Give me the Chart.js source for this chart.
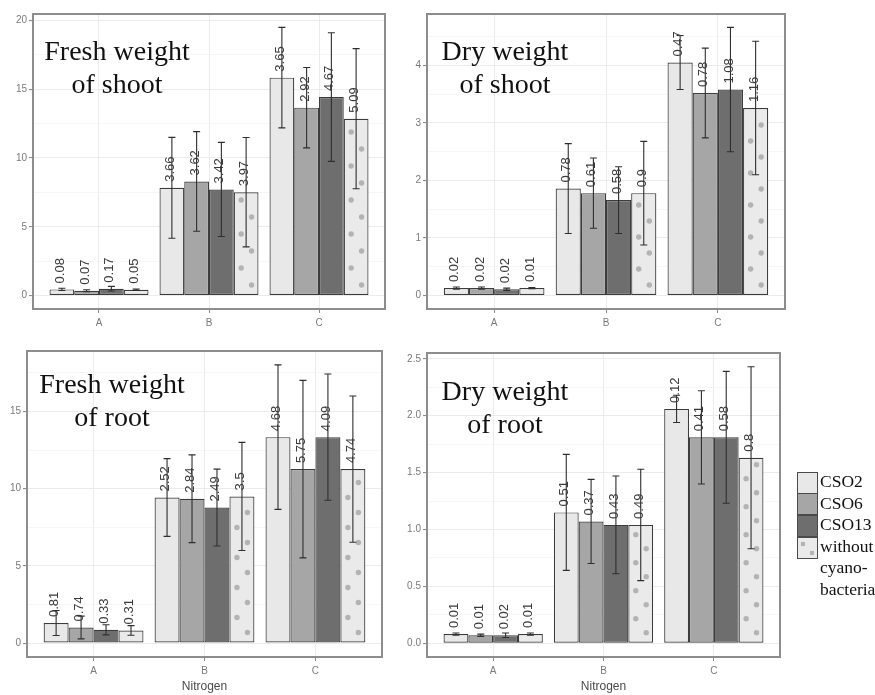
<!DOCTYPE html>
<html><head><meta charset="utf-8">
<script src="https://cdn.jsdelivr.net/npm/chart.js@4"></script>
<style>
html,body{margin:0;padding:0;background:#fff;}
#page{position:relative;width:875px;height:695px;overflow:hidden;background:#fff;}
canvas{position:absolute;}
.ttl{position:absolute;font-family:"Liberation Serif","Times New Roman",serif;font-size:28px;line-height:33px;color:#111;text-align:center;white-space:nowrap;transform:translateX(-50%);}
.key{position:absolute;left:797px;width:21px;height:22px;box-sizing:border-box;border:1px solid #4a4a4a;}
#legtxt{position:absolute;left:820px;top:471px;font-family:"Liberation Serif","Times New Roman",serif;font-size:17.5px;line-height:21.5px;color:#111;white-space:nowrap;}
</style></head>
<body><div id="page">
<canvas id="c1" width="400" height="335" style="left:0;top:0"></canvas>
<canvas id="c2" width="400" height="335" style="left:400px;top:0"></canvas>
<canvas id="c3" width="400" height="360" style="left:0;top:335px"></canvas>
<canvas id="c4" width="400" height="360" style="left:400px;top:335px"></canvas>
<div class="ttl" style="left:117px;top:34px">Fresh weight<br>of shoot</div>
<div class="ttl" style="left:505px;top:34px">Dry weight<br>of shoot</div>
<div class="ttl" style="left:112px;top:367px">Fresh weight<br>of root</div>
<div class="ttl" style="left:505px;top:374px">Dry weight<br>of root</div>
<div class="key" style="top:472px;background:#e8e8e8"></div>
<div class="key" style="top:493px;background:#a6a6a6"></div>
<div class="key" style="top:515px;background:#6e6e6e"></div>
<div class="key" style="top:537px;background-color:#eaeaea;background-image:radial-gradient(circle at 5px 6px,#b3b3b3 2.2px,transparent 2.6px),radial-gradient(circle at 14px 15px,#b3b3b3 2.2px,transparent 2.6px);"></div>
<div id="legtxt">CSO2<br>CSO6<br>CSO13<br>without<br>cyano-<br>bacteria</div>
</div>
<script>
Chart.defaults.font.family = "'Liberation Sans', Arial, sans-serif";
Chart.defaults.animation = false;

const categories = ['A', 'B', 'C'];
const seriesNames = ['CSO2', 'CSO6', 'CSO13', 'without cyano-bacteria'];
const seriesFill = ['#e8e8e8', '#a6a6a6', '#6e6e6e', '#eaeaea'];

// mean values per series (A, B, C)
const freshShootMean = [[0.45, 7.83, 15.83], [0.35, 8.29, 13.65], [0.50, 7.71, 14.42], [0.42, 7.51, 12.85]];
const freshShootSd   = [[0.08, 3.66, 3.65], [0.07, 3.62, 2.92], [0.17, 3.42, 4.67], [0.05, 3.97, 5.09]];
const dryShootMean   = [[0.13, 1.86, 4.05], [0.13, 1.78, 3.52], [0.11, 1.66, 3.58], [0.13, 1.78, 3.26]];
const dryShootSd     = [[0.02, 0.78, 0.47], [0.02, 0.61, 0.78], [0.02, 0.58, 1.08], [0.01, 0.9, 1.16]];
const freshRootMean  = [[1.30, 9.43, 13.34], [1.01, 9.35, 11.27], [0.86, 8.78, 13.34], [0.82, 9.50, 11.27]];
const freshRootSd    = [[0.81, 2.52, 4.68], [0.74, 2.84, 5.75], [0.33, 2.49, 4.09], [0.31, 3.5, 4.74]];
const dryRootMean    = [[0.08, 1.15, 2.06], [0.07, 1.07, 1.81], [0.07, 1.04, 1.81], [0.08, 1.04, 1.63]];
const dryRootSd      = [[0.01, 0.51, 0.12], [0.01, 0.37, 0.41], [0.02, 0.43, 0.58], [0.01, 0.49, 0.8]];

const freshShootTicks = [0, 5, 10, 15, 20];
const dryShootTicks   = [0, 1, 2, 3, 4];
const freshRootTicks  = [0, 5, 10, 15];
const dryRootTicks    = [0, 0.5, 1, 1.5, 2, 2.5];

const decorPlugin = {
  id: 'decor',
  afterDatasetsDraw(chart) {
    const ctx = chart.ctx, ys = chart.scales.y, ca = chart.chartArea;
    const cfg = chart.options.plugins.decor;
    // dotted fill of the "without" series
    const dmeta = chart.getDatasetMeta(3);
    dmeta.data.forEach(el => {
      const w = el.width, left = el.x - w / 2;
      const top = Math.min(el.y, el.base), bottom = Math.max(el.y, el.base);
      ctx.save();
      ctx.beginPath(); ctx.rect(left + 1.5, top + 1.5, w - 3, bottom - top - 3); ctx.clip();
      ctx.fillStyle = '#b3b3b3';
      let k = 0;
      for (let y = bottom - 10; y > top + 4; y -= cfg.dotStep, k++) {
        const x = left + (k % 2 === 0 ? 0.72 : 0.3) * w;
        ctx.beginPath(); ctx.arc(x, y, 2.7, 0, Math.PI * 2); ctx.fill();
      }
      ctx.restore();
    });
    ctx.save();
    // error bars
    ctx.strokeStyle = '#2e2e2e'; ctx.lineWidth = 1.1;
    chart.data.datasets.forEach((ds, di) => {
      chart.getDatasetMeta(di).data.forEach((el, j) => {
        const m = cfg.means[di][j], s = cfg.sds[di][j];
        const yt = ys.getPixelForValue(m + s), yb = ys.getPixelForValue(m - s);
        ctx.beginPath();
        ctx.moveTo(el.x, yt); ctx.lineTo(el.x, yb);
        ctx.moveTo(el.x - 3.5, yt); ctx.lineTo(el.x + 3.5, yt);
        ctx.moveTo(el.x - 3.5, yb); ctx.lineTo(el.x + 3.5, yb);
        ctx.stroke();
      });
    });
    // rotated sd labels
    ctx.fillStyle = '#3a3a3a';
    ctx.font = "13px 'Liberation Sans', Arial, sans-serif";
    ctx.textAlign = 'left'; ctx.textBaseline = 'middle';
    chart.data.datasets.forEach((ds, di) => {
      chart.getDatasetMeta(di).data.forEach((el, j) => {
        ctx.save();
        ctx.translate(el.x - 1.5, el.y - 6);
        ctx.rotate(-Math.PI / 2);
        ctx.fillText(String(cfg.sds[di][j]), 0, 0);
        ctx.restore();
      });
    });
    // panel border
    ctx.strokeStyle = '#8d8d8d'; ctx.lineWidth = 2;
    ctx.strokeRect(ca.left, ca.top, ca.right - ca.left, ca.bottom - ca.top);
    ctx.restore();
  }
};

function makePanel(id, means, sds, majorTicks, fmt, lay, xTitle, dotStep) {
  let hi = 0;
  means.forEach((row, i) => row.forEach((m, j) => { hi = Math.max(hi, m + sds[i][j]); }));
  const pad = hi * 0.05;
  const yMin = -pad, yMax = hi + pad;
  const step = majorTicks[1] - majorTicks[0];
  const minors = [majorTicks[0] - step / 2].concat(majorTicks.map(v => v + step / 2)).filter(v => v > yMin && v < yMax);
  const yTickObjs = majorTicks.map(v => ({ value: v, isMinor: false }))
    .concat(minors.map(v => ({ value: v, isMinor: true })))
    .sort((a, b) => a.value - b.value);

  const datasets = seriesNames.map((name, i) => ({
    label: name,
    data: categories.map((c, j) => ({ x: j + 1, y: means[i][j] })),
    backgroundColor: seriesFill[i],
    borderColor: '#3c3c3c',
    borderWidth: 1.2,
    borderSkipped: false,
    categoryPercentage: 0.9,
    barPercentage: 1.0
  }));

  return new Chart(document.getElementById(id), {
    type: 'bar',
    data: { datasets },
    options: {
      responsive: false,
      animation: false,
      layout: { padding: { left: 0, top: lay.top, right: lay.right, bottom: 0 } },
      plugins: {
        legend: { display: false },
        tooltip: { enabled: false },
        decor: { means, sds, dotStep }
      },
      scales: {
        x: {
          type: 'linear',
          min: 0.4, max: 3.6,
          offset: false,
          afterBuildTicks: s => { s.ticks = categories.map((c, j) => ({ value: j + 1 })); },
          afterFit: s => { s.height = lay.xh; },
          border: { display: false },
          grid: { offset: false, color: '#ebebeb', lineWidth: 1, drawTicks: true, tickLength: 4, tickColor: '#8d8d8d' },
          ticks: {
            autoSkip: false, maxRotation: 0, padding: 4,
            color: '#7a7a7a', font: { size: 10 },
            callback: v => categories[Math.round(v) - 1]
          },
          title: { display: xTitle, text: 'Nitrogen', color: '#4a4a4a', font: { size: 12 }, padding: { top: 0, bottom: 1 } }
        },
        y: {
          min: yMin, max: yMax,
          afterBuildTicks: s => { s.ticks = yTickObjs.map(t => ({ value: t.value, isMinor: t.isMinor })); },
          afterFit: s => { s.width = lay.yw; },
          border: { display: false },
          grid: {
            color: c => (c.tick && c.tick.isMinor) ? '#f4f4f4' : '#ebebeb',
            lineWidth: c => (c.tick && c.tick.isMinor) ? 0.8 : 1.1,
            drawTicks: true, tickLength: 4,
            tickColor: c => (c.tick && c.tick.isMinor) ? 'rgba(0,0,0,0)' : '#8d8d8d'
          },
          ticks: {
            autoSkip: false, padding: 2,
            color: '#7a7a7a', font: { size: 10 },
            callback: (v, i, ticks) => ticks[i].isMinor ? '' : fmt(v)
          }
        }
      }
    },
    plugins: [decorPlugin]
  });
}

const intFmt = v => String(Math.round(v));
const oneDec = v => v.toFixed(1);

makePanel('c1', freshShootMean, freshShootSd, freshShootTicks, intFmt, { top: 14, right: 15, yw: 33, xh: 26 }, false, 17);
makePanel('c2', dryShootMean, dryShootSd, dryShootTicks, intFmt, { top: 14, right: 15, yw: 27, xh: 26 }, false, 16);
makePanel('c3', freshRootMean, freshRootSd, freshRootTicks, intFmt, { top: 16, right: 18, yw: 27, xh: 38 }, true, 15);
makePanel('c4', dryRootMean, dryRootSd, dryRootTicks, oneDec, { top: 18, right: 20, yw: 27, xh: 38 }, true, 14);
</script>
</body></html>
